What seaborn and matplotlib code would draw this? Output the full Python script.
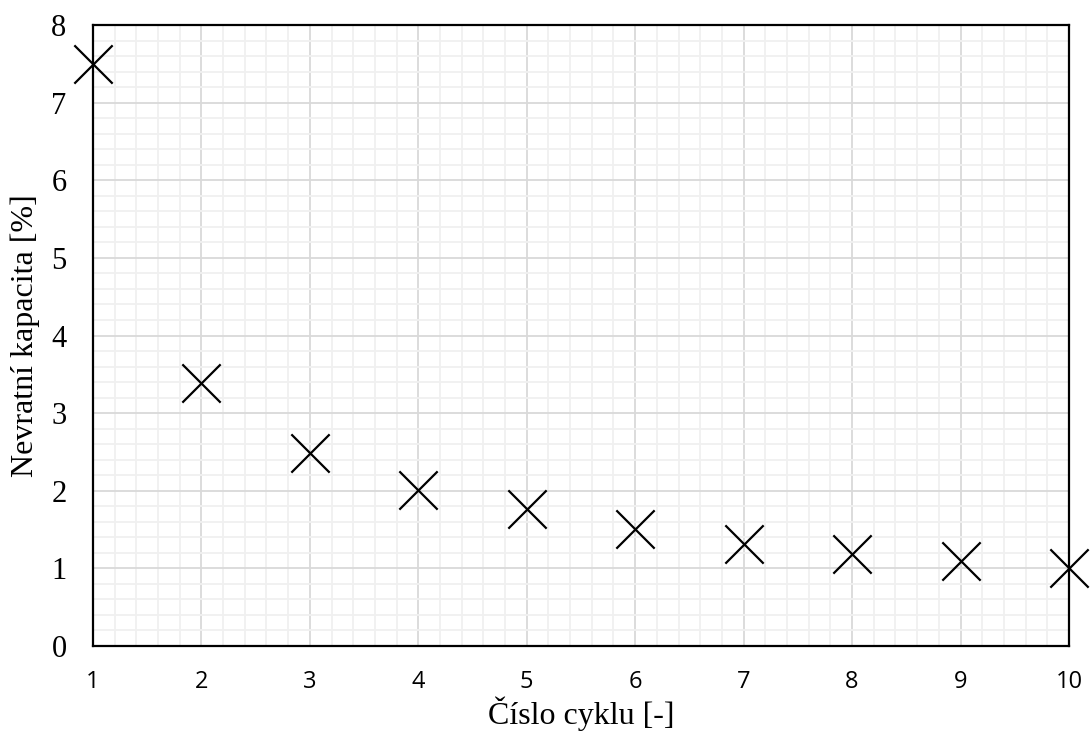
import numpy as np
import pandas as pd
import matplotlib
matplotlib.use("Agg")
import matplotlib.pyplot as plt
from matplotlib.ticker import MultipleLocator
import seaborn as sns

cycles = [1, 2, 3, 4, 5, 6, 7, 8, 9, 10]
capacity_loss = [7.5, 3.39, 2.49, 2.01, 1.77, 1.51, 1.32, 1.19, 1.10, 1.01]
y_ticks = [0, 1, 2, 3, 4, 5, 6, 7, 8]

df = pd.DataFrame({"cycle": cycles, "loss": capacity_loss})

sns.set_theme(style="white")
plt.rcParams["font.family"] = ["Liberation Serif", "DejaVu Serif"]
plt.rcParams.update({
    "text.color": "black",
    "axes.labelcolor": "black",
    "xtick.color": "black",
    "ytick.color": "black",
})

fig = plt.figure(figsize=(10.91, 7.51), dpi=100)
ax = fig.add_axes([0.0852, 0.1398, 0.8946, 0.8269])

sns.scatterplot(data=df, x="cycle", y="loss", marker="x", s=760, color="black",
                linewidth=1.6, ax=ax, clip_on=False, zorder=5)

ax.set_xlim(1, 10)
ax.set_ylim(0, 8)
ax.set_xticks(cycles)
ax.set_xticklabels([str(c) for c in cycles], fontfamily=["Open Sans", "DejaVu Sans"], fontsize=17)
ax.set_yticks(y_ticks)
ax.set_yticklabels([str(v) for v in y_ticks], fontsize=22)
ax.xaxis.set_minor_locator(MultipleLocator(0.2))
ax.yaxis.set_minor_locator(MultipleLocator(0.2))

ax.grid(which="major", color="#d9d9d9", linewidth=1.3)
ax.grid(which="minor", color="#f0f0f0", linewidth=1.3)
ax.set_axisbelow(True)

for sp in ax.spines.values():
    sp.set_color("black")
    sp.set_linewidth(1.6)

ax.tick_params(which="both", length=0, colors="black")
ax.tick_params(axis="x", pad=17)
ax.tick_params(axis="y", pad=19)

ax.set_xlabel("Číslo cyklu [-]", fontsize=23, labelpad=2, color="black")
ax.set_ylabel("Nevratní kapacita [%]", fontsize=23, labelpad=8, color="black")

fig.savefig("out.png", dpi=100)
